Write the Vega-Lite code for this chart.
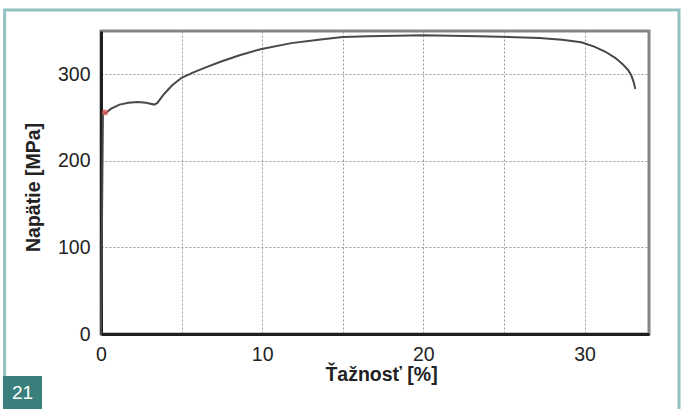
{
  "$schema": "https://vega.github.io/schema/vega-lite/v6.json",
  "background": "white",
  "autosize": "none",
  "padding": {"left": 101, "top": 31, "right": 34, "bottom": 75},
  "width": 548,
  "height": 303,
  "config": {"font": "Liberation Sans"},
  "view": {"stroke": "#858585", "strokeWidth": 3},
  "layer": [
    {
      "data": {"values": [{"part": "frame"}]},
      "mark": {"type": "rect", "fill": null, "stroke": "#93c1c1", "strokeWidth": 3},
      "encoding": {
        "x": {"datum": -5.98, "type": "quantitative"},
        "x2": {"datum": 35.86},
        "y": {"datum": 374.3, "type": "quantitative"},
        "y2": {"datum": -95}
      }
    },
    {
      "data": {"values": [
        {"strain": 0, "stress": 0},
        {"strain": 0.12, "stress": 256},
        {"strain": 0.3, "stress": 255},
        {"strain": 0.6, "stress": 260},
        {"strain": 1.15, "stress": 265},
        {"strain": 1.7, "stress": 267},
        {"strain": 2.26, "stress": 268},
        {"strain": 2.8, "stress": 267},
        {"strain": 3.3, "stress": 265},
        {"strain": 3.5, "stress": 267},
        {"strain": 3.9, "stress": 277},
        {"strain": 4.4, "stress": 287},
        {"strain": 5.0, "stress": 296},
        {"strain": 5.7, "stress": 302},
        {"strain": 6.5, "stress": 308},
        {"strain": 7.5, "stress": 315},
        {"strain": 8.6, "stress": 322},
        {"strain": 9.9, "stress": 329},
        {"strain": 11.8, "stress": 336},
        {"strain": 13.5, "stress": 340},
        {"strain": 15.0, "stress": 343},
        {"strain": 16.6, "stress": 344},
        {"strain": 20.0, "stress": 345},
        {"strain": 23.4, "stress": 344},
        {"strain": 27.2, "stress": 342},
        {"strain": 28.6, "stress": 340},
        {"strain": 29.8, "stress": 337},
        {"strain": 30.6, "stress": 332},
        {"strain": 31.3, "stress": 326},
        {"strain": 31.9, "stress": 319},
        {"strain": 32.35, "stress": 312},
        {"strain": 32.7, "stress": 305},
        {"strain": 32.9, "stress": 299},
        {"strain": 33.05, "stress": 291},
        {"strain": 33.15, "stress": 283}
      ]},
      "mark": {"type": "line", "color": "#484848", "strokeWidth": 2},
      "encoding": {
        "x": {
          "field": "strain", "type": "quantitative",
          "scale": {"domain": [0, 34], "nice": false, "zero": false},
          "axis": {
            "values": [0, 5, 10, 15, 20, 25, 30],
            "labelExpr": "datum.value % 10 === 0 ? datum.label : ''",
            "labelFlush": false,
            "grid": true, "gridDash": [2, 2], "gridColor": "#9a9a9a", "gridWidth": 1,
            "ticks": false,
            "domainColor": "#1e1e1e", "domainWidth": 3,
            "labelFontSize": 19.5, "labelColor": "#222", "labelPadding": 11,
            "title": "Ťažnosť [%]", "titleFontSize": 19.5, "titleFontWeight": "bold",
            "titleColor": "#222", "titlePadding": 2, "titleX": 280
          }
        },
        "y": {
          "field": "stress", "type": "quantitative",
          "scale": {"domain": [0, 350], "nice": false},
          "axis": {
            "values": [0, 100, 200, 300],
            "labelFlush": false,
            "grid": true, "gridDash": [2, 2], "gridColor": "#9a9a9a", "gridWidth": 1,
            "ticks": false,
            "domainColor": "#1e1e1e", "domainWidth": 3,
            "labelFontSize": 19.5, "labelColor": "#222", "labelPadding": 11,
            "title": "Napätie [MPa]",
            "titleFontSize": 19.5, "titleFontWeight": "bold",
            "titleColor": "#222", "titlePadding": 14, "titleY": 156
          }
        }
      }
    },
    {
      "data": {"values": [{"strain": 0.25, "stress": 256}]},
      "mark": {"type": "point", "filled": true, "color": "#e05a5a", "size": 35, "opacity": 0.8},
      "encoding": {
        "x": {"field": "strain", "type": "quantitative"},
        "y": {"field": "stress", "type": "quantitative"}
      }
    },
    {
      "data": {"values": [{"label": "21"}]},
      "layer": [
        {
          "mark": {"type": "rect", "fill": "#3a7f7b"},
          "encoding": {
            "x": {"datum": -6.08, "type": "quantitative"},
            "x2": {"datum": -3.66},
            "y": {"datum": -48.5, "type": "quantitative"},
            "y2": {"datum": -88}
          }
        },
        {
          "mark": {"type": "text", "color": "white", "fontSize": 19},
          "encoding": {
            "x": {"datum": -4.87, "type": "quantitative"},
            "y": {"datum": -67.6, "type": "quantitative"},
            "text": {"field": "label"}
          }
        }
      ]
    }
  ]
}
